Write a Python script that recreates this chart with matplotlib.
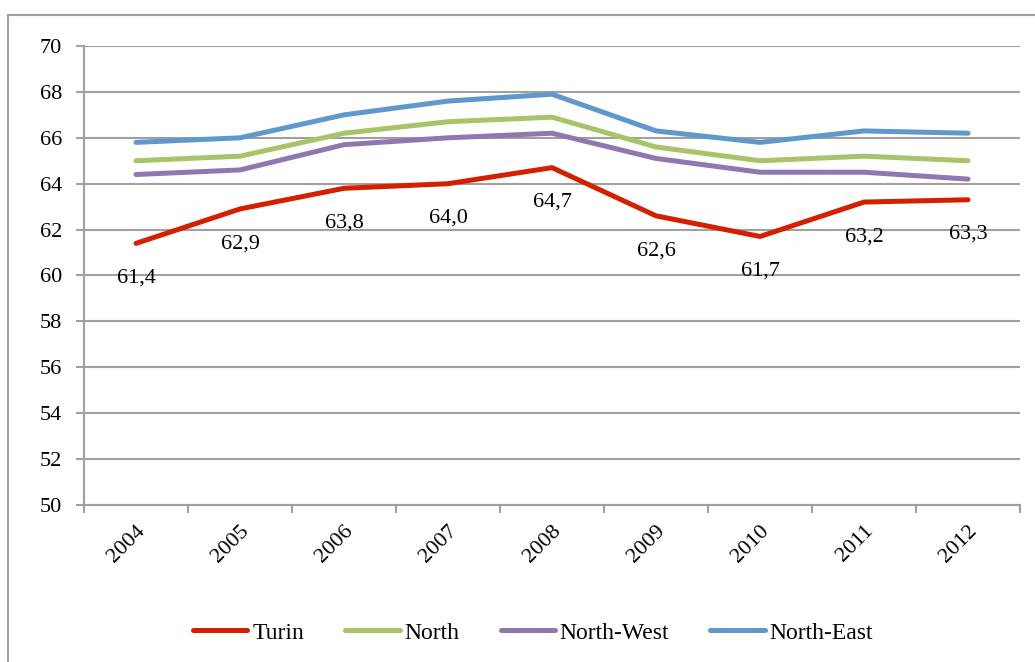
import matplotlib.pyplot as plt
from matplotlib.patches import Rectangle

years = ['2004', '2005', '2006', '2007', '2008', '2009', '2010', '2011', '2012']
turin = [61.4, 62.9, 63.8, 64.0, 64.7, 62.6, 61.7, 63.2, 63.3]
north = [65.0, 65.2, 66.2, 66.7, 66.9, 65.6, 65.0, 65.2, 65.0]
north_west = [64.4, 64.6, 65.7, 66.0, 66.2, 65.1, 64.5, 64.5, 64.2]
north_east = [65.8, 66.0, 67.0, 67.6, 67.9, 66.3, 65.8, 66.3, 66.2]

plt.rcParams['font.family'] = ['Liberation Serif', 'DejaVu Serif']

fig = plt.figure(figsize=(10.35, 6.62), dpi=100)
ax = fig.add_axes([0.0812, 0.2372, 0.9043, 0.6933])

# outer chart frame
fig.patches.append(Rectangle((8 / 1035, -0.01), 1.02, 1 - 15 / 662 + 0.01,
                             transform=fig.transFigure, fill=False,
                             edgecolor='#a0a0a0', linewidth=1.5))

x = list(range(len(years)))
series = [('Turin', turin, '#d42000'),
          ('North', north, '#a9c468'),
          ('North-West', north_west, '#9077b1'),
          ('North-East', north_east, '#5f98cd')]
for name, vals, col in series:
    ax.plot(x, vals, color=col, linewidth=3.6, label=name,
            solid_capstyle='round', solid_joinstyle='round', zorder=3)

for xi, v in zip(x, turin):
    ax.annotate(f'{v:.1f}'.replace('.', ','), (xi, v), xytext=(0, -25),
                textcoords='offset points', ha='center', va='center',
                fontsize=16)

ax.set_xlim(-0.5, len(years) - 0.5)
ax.set_ylim(50, 70)
ax.set_yticks(range(50, 71, 2))
ax.set_xticks(x)
ax.set_xticklabels(years, rotation=45, ha='right', rotation_mode='anchor',
                   fontsize=16)
ax.set_xticks([i - 0.5 for i in range(len(years) + 1)], minor=True)
ax.tick_params(axis='x', which='major', length=0, pad=12)
ax.tick_params(axis='x', which='minor', length=6, color='#a0a0a0', width=1.5)
ax.tick_params(axis='y', length=6, color='#a0a0a0', width=1.5, labelsize=16,
               pad=10)
ax.grid(axis='y', color='#a0a0a0', linewidth=1.5)
ax.set_axisbelow(True)
for s in ['top', 'right']:
    ax.spines[s].set_visible(False)
for s in ['left', 'bottom']:
    ax.spines[s].set_color('#a0a0a0')
    ax.spines[s].set_linewidth(1.5)

fig.legend(loc='center', bbox_to_anchor=(0.515, 0.044), ncol=4, frameon=False,
           fontsize=17, handlelength=2.3, handletextpad=0.2, columnspacing=1.75)

fig.savefig('out.png', dpi=100)
